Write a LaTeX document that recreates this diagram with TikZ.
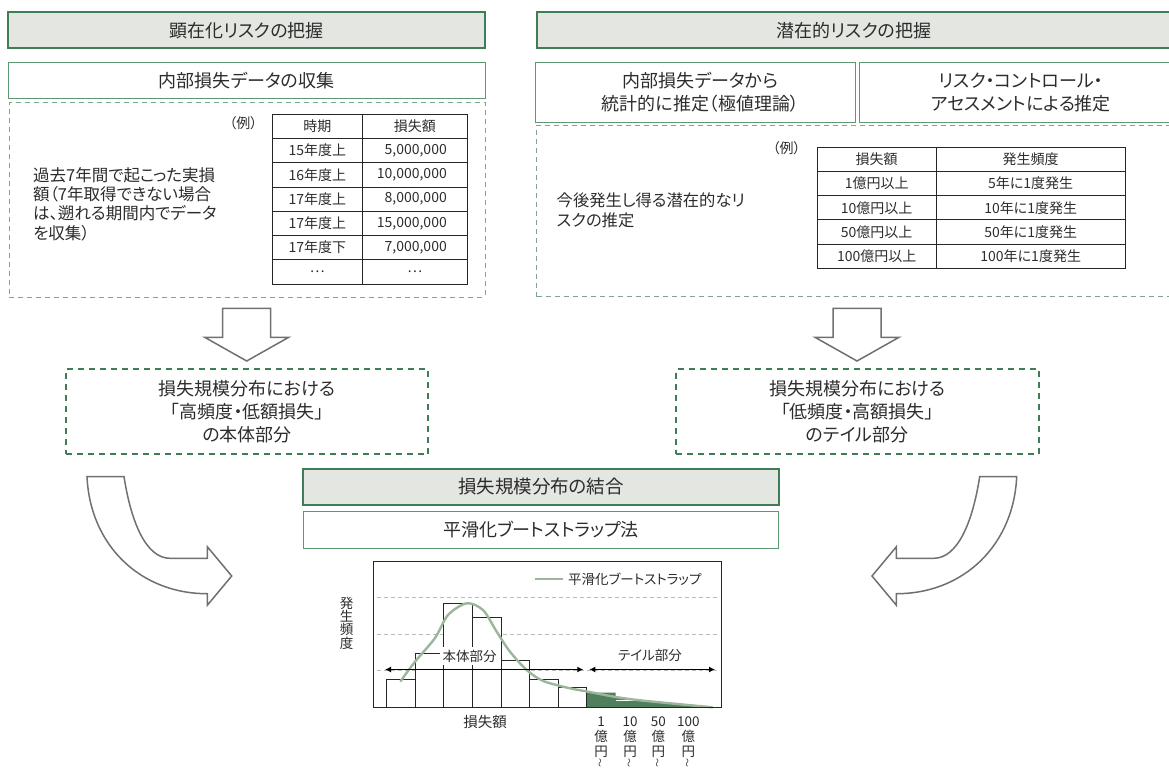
\documentclass[tikz,border=0pt]{standalone}
\usepackage{fontspec}
\setmainfont{Noto Sans CJK JP}[RawFeature=+palt]
\usetikzlibrary{arrows.meta}
\definecolor{hdrfill}{HTML}{E4E6E1}
\definecolor{dkgreen}{HTML}{3E7D55}
\definecolor{ltgreen}{HTML}{5E9873}
\definecolor{dashgreen}{HTML}{7AA88A}
\definecolor{txt}{HTML}{2C2C2C}
\definecolor{arrowgray}{HTML}{707070}
\definecolor{curvegreen}{HTML}{9CB59B}
\definecolor{tailgreen}{HTML}{4F7F5C}
\definecolor{gridgray}{HTML}{BBBBBB}
\begin{document}
\begin{tikzpicture}[x=1pt,y=-1pt,
  hdr/.style={draw=dkgreen, line width=2pt, fill=hdrfill, text=txt, inner sep=0pt, font=\fontsize{18}{22}\selectfont},
  subbox/.style={draw=ltgreen, line width=0.9pt, fill=white, text=txt, inner sep=0pt, align=center, font=\fontsize{18}{23}\selectfont},
  thindash/.style={draw=dashgreen, line width=0.9pt, dash pattern=on 5pt off 4pt},
  thickdash/.style={draw=dkgreen, line width=2.2pt, dash pattern=on 6pt off 5pt, inner sep=0pt, text=txt, align=center, font=\fontsize{18}{22.7}\selectfont},
  para/.style={text=txt, inner sep=0pt, align=left, font=\fontsize{16.5}{19.3}\selectfont},
  tbltxt/.style={text=txt, inner sep=0pt, font=\fontsize{14}{16}\selectfont},
  tblline/.style={draw=black!85, line width=0.9pt},
  blockarrow/.style={draw=arrowgray, line width=1.5pt, fill=white, line join=miter},
  small/.style={text=txt, inner sep=0pt, font=\fontsize{13}{15}\selectfont},
  dbl/.style={line width=1.8pt, black, {Latex[length=6pt,width=6pt]}-{Latex[length=6pt,width=6pt]}}
]
\useasboundingbox (0,0) rectangle (1169,768);

% ---------- top headers ----------
\node[hdr, minimum width=476.7pt, minimum height=36.5pt] (h1) at (246.7,30.2) {顕在化リスクの把握};
\node[hdr, minimum width=650pt, minimum height=36.5pt, anchor=west] (h2) at (535.7,30.2) {};
\node[text=txt, inner sep=0pt, font=\fontsize{18}{22}\selectfont] (h2t) at (854,30.2) {潜在的リスクの把握};

% ---------- left: sub box + dashed area ----------
\node[subbox, minimum width=476.7pt, minimum height=36pt] (s1) at (246.7,80.5) {内部損失データの収集};
\node[thindash, minimum width=475.5pt, minimum height=194.3pt, inner sep=0pt] (d1) at (247.2,199.8) {};
\node[tbltxt] (ex1) at (243.4,123.3) {（例）};
\node[para, anchor=west] (p1) at (33,204) {過去7年間で起こった実損\\額（7年取得できない場合\\は、遡れる期間内でデータ\\を収集）};

% left table
\draw[tblline] (272.5,114.3) rectangle (467.5,284);
\draw[tblline] (362.4,114.3) -- (362.4,284);
\foreach \r in {1,...,6} { \draw[tblline] (272.5,114.3+24.24*\r) -- (467.5,114.3+24.24*\r); }
\foreach \a [count=\i from 0] in {時期, 15年度上, 16年度上, 17年度上, 17年度上, 17年度下} {
  \node[tbltxt] (la\i) at (317.4,126.4+24.24*\i) {\a};
}
\node[tbltxt] (lb0) at (414.9,126.4) {損失額};
\node[tbltxt, anchor=east] (lb1) at (447,150.6) {5,000,000};
\node[tbltxt, anchor=east] (lb2) at (447,174.9) {10,000,000};
\node[tbltxt, anchor=east] (lb3) at (447,199.1) {8,000,000};
\node[tbltxt, anchor=east] (lb4) at (447,223.4) {15,000,000};
\node[tbltxt, anchor=east] (lb5) at (447,247.6) {7,000,000};
\node[tbltxt] (la6) at (317.4,271.8) {…};
\node[tbltxt] (lb6) at (414.9,271.8) {…};

% ---------- right: sub boxes + dashed area ----------
\node[subbox, minimum width=319.9pt, minimum height=59.3pt] (s2) at (695.7,92.4) {};
\node[text=txt, inner sep=0pt, align=center, font=\fontsize{18}{23.3}\selectfont] (s2t) at (700.5,92.4) {内部損失データから\\統計的に推定（極値理論）};
\node[subbox, minimum width=330pt, minimum height=59.3pt, anchor=west] (s3) at (858.8,92.4) {};
\node[text=txt, inner sep=0pt, align=center, font=\fontsize{18}{23.3}\selectfont] (s3t) at (1021,92.4) {リスク・コントロール・\\アセスメントによる推定};
\node[thindash, minimum width=650pt, minimum height=171.4pt, inner sep=0pt, anchor=west] (d2) at (536.2,211) {};
\node[tbltxt] (ex2) at (786.7,148.3) {（例）};
\node[para, anchor=west, font=\fontsize{16.3}{20}\selectfont] (p2) at (556.5,210) {今後発生し得る潜在的なリ\\スクの推定};

% right table
\draw[tblline] (817,147.3) rectangle (1125,268.3);
\draw[tblline] (936.5,147.3) -- (936.5,268.3);
\foreach \r in {1,...,4} { \draw[tblline] (817,147.3+24.2*\r) -- (1125,147.3+24.2*\r); }
\foreach \a/\b [count=\i from 0] in {損失額/発生頻度, 1億円以上/5年に1度発生, 10億円以上/10年に1度発生, 50億円以上/50年に1度発生, 100億円以上/100年に1度発生} {
  \node[tbltxt] (ra\i) at (876.7,159.4+24.2*\i) {\a};
  \node[tbltxt] (rb\i) at (1030.7,159.4+24.2*\i) {\b};
}

% ---------- block down arrows ----------
\draw[blockarrow] (222.7,308.3) -- (270.7,308.3) -- (270.7,337.3) -- (288.7,337.3) -- (246.7,361) -- (204.7,337.3) -- (222.7,337.3) -- cycle;
\draw[blockarrow] (833,308.3) -- (881,308.3) -- (881,337.3) -- (899,337.3) -- (857,361) -- (815,337.3) -- (833,337.3) -- cycle;

% ---------- green dashed boxes ----------
\node[thickdash, minimum width=362.6pt, minimum height=85pt] (g1) at (247,411.8) {損失規模分布における\\「高頻度・低額損失」\\の本体部分};
\node[thickdash, minimum width=362.8pt, minimum height=85pt] (g2) at (857.4,411.8) {損失規模分布における\\「低頻度・高額損失」\\のテイル部分};

% ---------- curved arrows ----------
\draw[blockarrow] (87,476.5) -- (124,476.5) .. controls (131,522) and (146,558.3) .. (170,558.3) -- (207.3,558.3) -- (207.3,546.7) -- (231.7,576) -- (207.3,605.3) -- (207.3,593.7) .. controls (140,593.7) and (90,545) .. (87,476.5) -- cycle;
\draw[blockarrow] (1016.7,476.5) -- (979.7,476.5) .. controls (972.7,522) and (957.7,558.3) .. (933.7,558.3) -- (896.4,558.3) -- (896.4,546.7) -- (872,576) -- (896.4,605.3) -- (896.4,593.7) .. controls (963.7,593.7) and (1013.7,545) .. (1016.7,476.5) -- cycle;

% ---------- center boxes ----------
\node[hdr, minimum width=475.3pt, minimum height=35.5pt, font=\fontsize{18.5}{22}\selectfont] (c1) at (541,487) {損失規模分布の結合};
\node[subbox, minimum width=475.3pt, minimum height=36.3pt] (c2) at (541,529.8) {平滑化ブートストラップ法};

% ---------- chart ----------
\draw[gridgray, line width=0.8pt, dash pattern=on 4pt off 3pt] (376.7,597.7) -- (718,597.7);
\draw[gridgray, line width=0.8pt, dash pattern=on 4pt off 3pt] (376.7,634.3) -- (718,634.3);
\draw[gridgray, line width=0.8pt, dash pattern=on 4pt off 3pt] (376.7,670.7) -- (718,670.7);
% bars
\foreach \xa/\xb/\t in {386.3/415/679.7, 415/443.7/653.7, 443.7/472.3/603.3, 472.3/501/617.3, 501/529.7/660.7, 529.7/558.3/679.7, 558.3/586.3/687.7} {
  \draw[fill=white, draw=black!85, line width=0.9pt] (\xa,707.3) rectangle (\xb,\t);
}
% tail fill
\fill[tailgreen] (586.3,707.3) -- (586.3,692.7) -- (615.7,692.7) -- (615.7,697) -- plot[smooth] coordinates {(615.7,697) (640,700.3) (670,703.3) (712.3,707.3)} -- cycle;
\draw[white, line width=0.8pt] (615.7,700.5) -- (672.7,700.5);
\draw[black!85, line width=0.9pt] (586.3,692.7) -- (586.3,707.3);
% curve
\draw[curvegreen, line width=2.4pt, line cap=round] plot[smooth] coordinates {(400.7,681) (415,661.7) (435,638) (448,615) (466.7,603.3) (483,610) (496.7,631.7) (510,651.7) (526.7,670) (543.3,681) (570,688.3) (588.3,691.7) (615.7,697) (640,700.3) (670,703.3) (712.3,707.3)};
% frame
\draw[black!85, line width=1pt] (373.3,561) rectangle (721.3,707.3);
% arrows and labels
\coordinate (a1l) at (385,669.5);
\coordinate (a1r) at (583.3,669.5);
\coordinate (a2l) at (589.3,669.5);
\coordinate (a2r) at (715,669.5);
\draw[dbl] (a1l) -- (a1r);
\draw[dbl] (a2l) -- (a2r);
\node[small, fill=white, inner xsep=3pt, inner ysep=3pt, font=\fontsize{13.5}{15}\selectfont] (hon) at (469.5,656) {本体部分};
\node[small, fill=white, inner xsep=3pt, inner ysep=2pt, font=\fontsize{13.5}{15}\selectfont] (tail) at (650,655.7) {テイル部分};
% legend
\coordinate (lg1) at (535,579);
\coordinate (lg2) at (563.3,579);
\draw[curvegreen, line width=2pt] (lg1) -- (lg2);
\node[small, anchor=west, font=\fontsize{13.5}{15}\selectfont] (lgt) at (568,579) {平滑化ブートストラップ};
% axis labels
\node[small, align=center, font=\fontsize{13.5}{13.3}\selectfont] (ylab) at (346.7,623) {発\\生\\頻\\度};
\node[small, font=\fontsize{14.5}{16}\selectfont] (xlab) at (485,722.3) {損失額};
\foreach \xx/\nn [count=\k] in {601/1, 630/10, 658.3/50, 688.3/100} {
  \node[small, font=\fontsize{13.5}{15}\selectfont] (tk\k) at (\xx,721.7) {\nn};
  \node[small, font=\fontsize{13.5}{15}\selectfont] (tko\k) at (\xx,736.7) {億};
  \node[small, font=\fontsize{13.5}{15}\selectfont] (tke\k) at (\xx,751.7) {円};
  \node[small, rotate=90, font=\fontsize{9}{10}\selectfont] (tkw\k) at (\xx,762.5) {〜};
}
\end{tikzpicture}
\end{document}
